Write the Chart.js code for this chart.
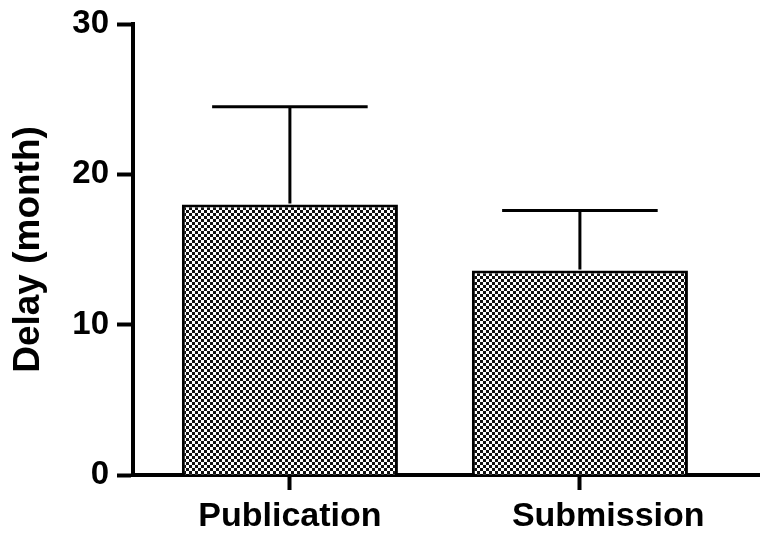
<!DOCTYPE html>
<html>
<head>
<meta charset="utf-8">
<script src="https://cdn.jsdelivr.net/npm/chart.js@4/dist/chart.umd.min.js"></script>
<style>
  html, body { margin: 0; padding: 0; background: #fff; }
  #wrap { width: 760px; height: 539px; }
</style>
</head>
<body>
<div id="wrap"><canvas id="grafico" width="760" height="539"></canvas></div>
<script>
// dados
const categorias = ['Publication', 'Submission'];
const medias = [18.0, 13.6];
const desvios = [6.5, 4.0];
const ticksY = [0, 10, 20, 30];

// padrão xadrez das barras
function padraoXadrez() {
    const c = document.createElement('canvas');
    c.width = 6; c.height = 6;
    const p = c.getContext('2d');
    p.fillStyle = '#fff';
    p.fillRect(0, 0, 6, 6);
    p.fillStyle = '#111';
    p.fillRect(0, 0, 3, 3);
    p.fillRect(3, 3, 3, 3);
    return p.createPattern(c, 'repeat');
}

// desenha as barras de erro (só para cima)
const barrasErro = {
    id: 'barrasErro',
    afterDatasetsDraw(chart) {
        const ctx = chart.ctx;
        const meta = chart.getDatasetMeta(0);
        const y = chart.scales.y;
        ctx.save();
        ctx.strokeStyle = '#000';
        ctx.lineWidth = 3;
        meta.data.forEach(function(bar, i) {
            const topo = y.getPixelForValue(medias[i] + desvios[i]);
            const meio = y.getPixelForValue(medias[i]);
            const meiaLarg = bar.width * 0.36;
            ctx.beginPath();
            ctx.moveTo(bar.x, meio - 1);
            ctx.lineTo(bar.x, topo);
            ctx.moveTo(bar.x - meiaLarg, topo);
            ctx.lineTo(bar.x + meiaLarg, topo);
            ctx.stroke();
        });
        ctx.restore();
    }
};

document.addEventListener('DOMContentLoaded', function() {
    const ctx = document.getElementById('grafico').getContext('2d');
    new Chart(ctx, {
        type: 'bar',
        data: {
            datasets: [{
                data: medias.map(function(v, i) { return { x: i + 1, y: v }; }),
                backgroundColor: padraoXadrez(),
                borderColor: '#000',
                borderWidth: 3,
                borderSkipped: 'bottom',
                categoryPercentage: 1,
                barPercentage: 0.745
            }]
        },
        options: {
            responsive: false,
            animation: false,
            layout: { padding: { top: 24, right: 0, left: 0, bottom: 0 } },
            plugins: { legend: { display: false }, tooltip: { enabled: false } },
            scales: {
                x: {
                    type: 'linear',
                    offset: false,
                    min: 0.459,
                    max: 2.621,
                    afterBuildTicks: function(s) {
                        s.ticks = categorias.map(function(c, i) { return { value: i + 1 }; });
                    },
                    afterFit: function(s) { s.height = 64; s.paddingLeft = 0; s.paddingRight = 0; },
                    border: { display: true, color: '#000', width: 4 },
                    grid: { offset: false, drawOnChartArea: false, color: '#000', tickLength: 15, tickWidth: 4 },
                    ticks: {
                        autoSkip: false,
                        maxRotation: 0,
                        color: '#000',
                        padding: 6,
                        font: { family: 'Liberation Sans, Arial, sans-serif', size: 34, weight: 'bold' },
                        // no original o rótulo "Submission" fica deslocado para a direita
                        callback: function(v) {
                            const r = categorias[v - 1] || '';
                            return v === 2 ? '      ' + r : r;
                        }
                    }
                },
                y: {
                    min: 0,
                    max: 30,
                    afterBuildTicks: function(s) {
                        s.ticks = ticksY.map(function(v) { return { value: v }; });
                    },
                    afterFit: function(s) { s.width = 133; s.paddingTop = 0; s.paddingBottom = 0; },
                    border: { display: true, color: '#000', width: 4 },
                    grid: { drawOnChartArea: false, color: '#000', tickLength: 16, tickWidth: 4 },
                    ticks: {
                        color: '#000',
                        padding: 8,
                        font: { family: 'Liberation Sans, Arial, sans-serif', size: 33, weight: 'bold' }
                    },
                    title: {
                        display: true,
                        text: 'Delay (month)',
                        color: '#000',
                        padding: { top: 7, bottom: 0 },
                        font: { family: 'Liberation Sans, Arial, sans-serif', size: 37, weight: 'bold' }
                    }
                }
            }
        },
        plugins: [barrasErro]
    });
});
</script>
</body>
</html>
